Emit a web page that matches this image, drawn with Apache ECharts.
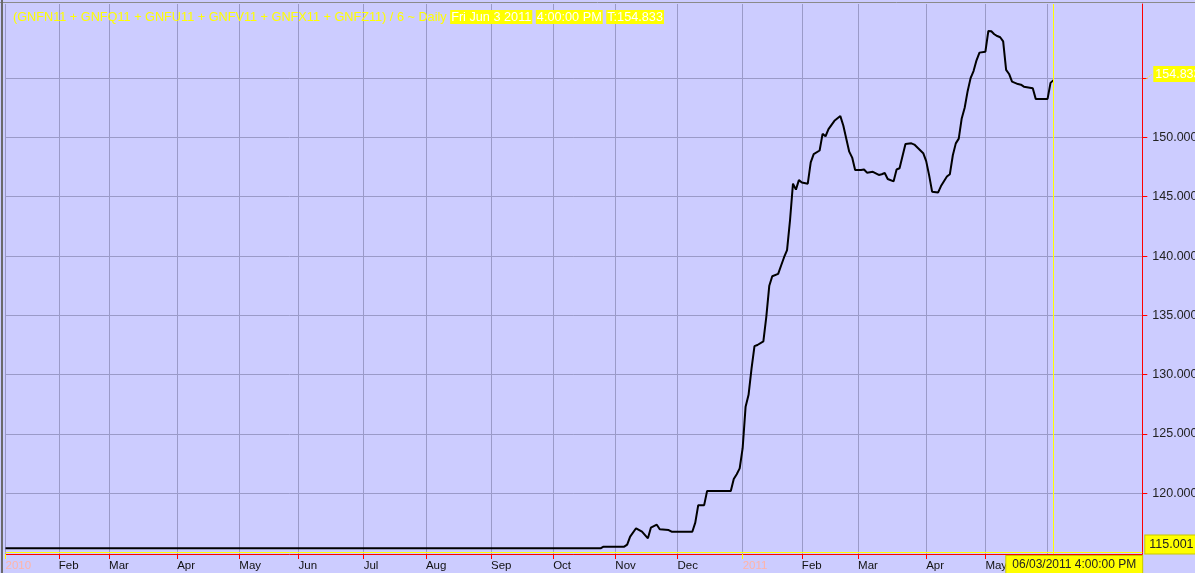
<!DOCTYPE html>
<html><head><meta charset="utf-8">
<script src="https://cdn.jsdelivr.net/npm/echarts@6/dist/echarts.min.js"></script>
<style>html,body{margin:0;padding:0;background:#ccccff;overflow:hidden}#c{width:1195px;height:573px}</style>
</head><body><div id="c"></div>
<script>
// ---- data ----
const monthLabels = ['2010','Feb','Mar','Apr','May','Jun','Jul','Aug','Sep','Oct','Nov','Dec','2011','Feb','Mar','Apr','May','Jun'];
const monthTradingDays = [18,17,23,21,20,22,21,22,21,21,21,22,20,19,23,20,21,3];
const futureSlots = 30;
const yearLabels = ['2010','2011'];
const yTickValues = [120,125,130,135,140,145,150,155];
const yLabelValues = [120,125,130,135,140,145,150];
// sparse daily points (trading-day index, price)
const dayIndex = [0,201,202,209,210,211,213,215,217,218,220,221,224,225,232,233,234,236,237,245,246,247,248,249,250,251,252,253,254,256,257,258,259,261,262,263,264,265,266,267,268,269,271,272,273,275,276,277,278,280,282,283,285,286,287,289,290,291,293,295,296,297,298,300,301,302,304,306,307,310,311,312,313,315,316,318,319,320,321,322,323,324,325,326,327,328,329,331,332,333,334,335,336,337,338,339,340,342,343,344,347,348,352,353,354];
const price = [115.36,115.36,115.50,115.50,115.67,116.35,117.05,116.76,116.20,117.10,117.35,116.96,116.90,116.76,116.76,117.52,119.00,119.00,120.20,120.20,121.20,121.60,122.10,123.80,127.30,128.30,130.50,132.40,132.50,132.80,134.90,137.50,138.30,138.50,139.20,139.90,140.50,143.00,146.10,145.60,146.40,146.20,146.10,147.90,148.60,148.90,150.30,150.10,150.70,151.40,151.80,151.00,148.80,148.30,147.26,147.26,147.30,147.03,147.10,146.84,146.90,147.00,146.50,146.30,147.30,147.40,149.45,149.50,149.40,148.67,148.00,146.80,145.43,145.35,145.90,146.70,146.90,148.50,149.50,149.90,151.60,152.50,153.90,155.00,155.60,156.50,157.15,157.23,158.98,158.95,158.70,158.55,158.45,158.10,155.70,155.35,154.70,154.50,154.45,154.28,154.15,153.25,153.25,154.60,154.833];
const titleText = '(GNFN11 + GNFQ11 + GNFU11 + GNFV11 + GNFX11 + GNFZ11) / 6 ~ Daily';
const titleBadges = ['Fri Jun 3 2011','4:00:00 PM','T:154.833'];
const lastValue = 154.833;
const cursorValue = 115.001;
const cursorDate = '06/03/2011 4:00:00 PM';
const cursorIndex = 354;

// ---- build categories ----
const cats = [];
const monthStart = {};
const yearStart = {};
monthLabels.forEach((m, mi) => {
  for (let d = 0; d < monthTradingDays[mi]; d++) {
    const idx = cats.length;
    if (d === 0) { monthStart[idx] = m; if (yearLabels.includes(m)) yearStart[idx] = m; }
    cats.push(m + '#' + mi + '#' + d);
  }
});
for (let i = 0; i < futureSlots; i++) cats.push('f#' + i);
const seriesData = cats.map(() => null);
dayIndex.forEach((di, k) => { seriesData[di] = price[k]; });

const FONT = 'Liberation Sans, Arial, sans-serif';
const GRID = '#9a9ac8';
const GRID_TOP = 4, GRID_RIGHT = 52.7, GRID_LEFT = 5.5, GRID_BOTTOM = 19;
const chart = echarts.init(document.getElementById('c'), null, {renderer: 'canvas'});
const option = {
  animation: false,
  backgroundColor: '#ccccff',
  title: {
    left: 8, top: 5,
    text: '{t|' + titleText + '} ' + titleBadges.map(b => '{b|' + b + '}').join(' '),
    textStyle: {
      fontSize: 12.7, fontFamily: FONT, fontWeight: 'normal',
      rich: {
        t: {color: '#ffff00', fontSize: 12.7, fontFamily: FONT},
        b: {color: '#ffffff', backgroundColor: '#ffff00', fontSize: 12.7, fontFamily: FONT, padding: [1, 1, 0, 1]}
      }
    }
  },
  grid: {left: GRID_LEFT, right: GRID_RIGHT, top: GRID_TOP, bottom: GRID_BOTTOM, containLabel: false, outerBoundsMode: 'none'},
  xAxis: [{
    type: 'category', data: cats, boundaryGap: false, position: 'bottom',
    axisLine: {show: true, onZero: false, lineStyle: {color: '#ff0000', width: 1}},
    axisTick: {show: true, interval: (i) => monthStart[i] !== undefined && yearStart[i] === undefined, length: 5, lineStyle: {color: '#ff0000'}},
    axisLabel: {show: true, interval: (i) => monthStart[i] !== undefined,
      formatter: (v, i) => yearStart[i] ? '{y|' + yearStart[i] + '}' : (monthStart[i] || ''),
      align: 'left', color: '#111', fontSize: 11.5, fontFamily: FONT, margin: 6,
      rich: {y: {color: '#ffb4a8', fontSize: 11.5, fontFamily: FONT}}},
    splitLine: {show: true, interval: (i) => monthStart[i] !== undefined, lineStyle: {color: GRID, width: 1}}
  }, {
    type: 'category', data: cats, boundaryGap: false, position: 'bottom',
    axisLine: {show: false, onZero: false},
    axisTick: {show: true, interval: (i) => yearStart[i] !== undefined, length: 5, lineStyle: {color: '#ffff00'}},
    axisLabel: {show: false},
    splitLine: {show: false}
  }],
  yAxis: {
    type: 'value', position: 'right', min: 114.88, max: 161.25, scale: true,
    axisLine: {show: true, lineStyle: {color: '#ff0000', width: 1}},
    axisTick: {show: true, customValues: yTickValues, length: 5, lineStyle: {color: '#ff0000'}},
    axisLabel: {show: true, customValues: yLabelValues, formatter: v => v.toFixed(3), color: '#222', fontSize: 12.5, fontFamily: FONT, margin: 10, verticalAlign: 'middle', padding: [0, 0, 9, 0], align: 'left'},
    splitLine: {show: true, lineStyle: {color: GRID, width: 1}}
  },
  series: [{
    type: 'line', xAxisIndex: 0, yAxisIndex: 0, data: seriesData, connectNulls: true,
    showSymbol: false, symbol: 'none', lineStyle: {color: '#000', width: 2}, z: 5
  }]
};
chart.setOption(option);

// crosshair and badges positioned via the chart's own scales
const xCur = Math.round(chart.convertToPixel({xAxisIndex: 0}, cats[cursorIndex])) + 0.5;
const yCur = Math.round(chart.convertToPixel({yAxisIndex: 0}, cursorValue)) - 0.5;
const yLast = chart.convertToPixel({yAxisIndex: 0}, lastValue);
const rightEdge = 1195 - GRID_RIGHT;
const bottomEdge = 573 - GRID_BOTTOM;
chart.setOption({
  graphic: [
    {type: 'line', z: 90, shape: {x1: xCur, y1: GRID_TOP, x2: xCur, y2: bottomEdge}, style: {stroke: '#ffff00', lineWidth: 1}},
    {type: 'line', z: 90, shape: {x1: GRID_LEFT, y1: yCur, x2: rightEdge, y2: yCur}, style: {stroke: '#ffff00', lineWidth: 1}},
    {type: 'line', z: 100, shape: {x1: 0, y1: 2.5, x2: 1195, y2: 2.5}, style: {stroke: '#8a8a8a', lineWidth: 1}},
    {type: 'line', z: 100, shape: {x1: 2, y1: 0, x2: 2, y2: 573}, style: {stroke: '#6a6a6a', lineWidth: 2}},
    {type: 'line', z: 100, shape: {x1: rightEdge + 2, y1: yLast, x2: rightEdge + 10, y2: yLast - 6}, style: {stroke: '#ffff00', lineWidth: 1, lineDash: [1, 1]}},
    {type: 'text', z: 100, x: rightEdge + 11, y: yLast - 6, style: {text: lastValue.toFixed(3), fill: '#ffffff', font: '12.5px ' + FONT, backgroundColor: '#ffff00', padding: [2, 2, 1, 2], verticalAlign: 'middle', align: 'left'}},
    {type: 'text', z: 100, x: rightEdge + 3, y: yCur - 8, style: {text: cursorValue.toFixed(3), fill: '#222', font: '12.5px ' + FONT, backgroundColor: '#ffff00', borderColor: '#c8c800', borderWidth: 1, padding: [3, 8, 2, 4], verticalAlign: 'middle', align: 'left'}},
    {type: 'text', z: 100, x: rightEdge - 136, y: 565, style: {text: cursorDate, fill: '#222', font: '12px ' + FONT, backgroundColor: '#ffff00', borderColor: '#c8c800', borderWidth: 1, padding: [3, 6, 3, 6], verticalAlign: 'middle', align: 'left'}}
  ]
});
</script>
</body></html>
